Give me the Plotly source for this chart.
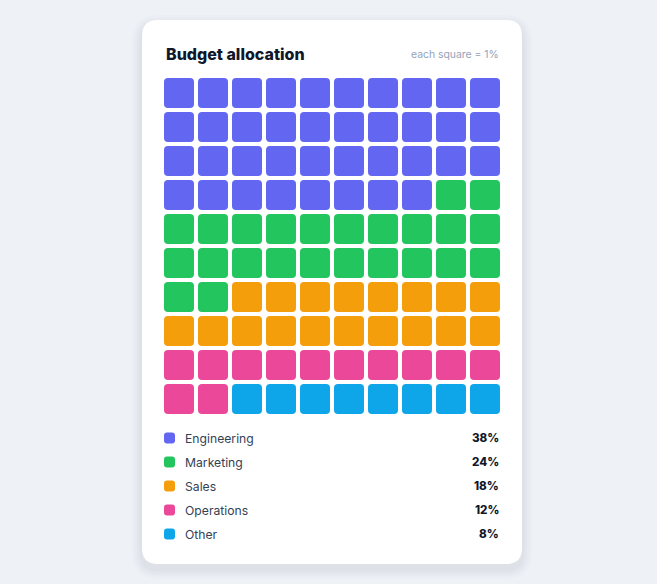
import plotly.graph_objects as go

# datos del waffle
categorias = ["Engineering", "Marketing", "Sales", "Operations", "Other"]
porcentajes = [38, 24, 18, 12, 8]
colores = ["#6366f1", "#22c55e", "#f59e0b", "#ec4899", "#0ea5e9"]

titulo = "Budget allocation"
subtitulo = "each square = 1%"

W, H = 657, 584
columnas = 10
paso = 34      # px entre cuadros
lado = 30      # px del cuadro
fondo = "#eef1f6"


def px(x):
    return x / W


def py(y):
    return 1 - y / H


def rect_redondo(x0, y0, x1, y1, rx, ry):
    # path de rectangulo con esquinas redondeadas (y puede ir invertida)
    sy = 1 if y1 > y0 else -1
    return (f"M {x0 + rx},{y0} L {x1 - rx},{y0} Q {x1},{y0} {x1},{y0 + sy * ry} "
            f"L {x1},{y1 - sy * ry} Q {x1},{y1} {x1 - rx},{y1} "
            f"L {x0 + rx},{y1} Q {x0},{y1} {x0},{y1 - sy * ry} "
            f"L {x0},{y0 + sy * ry} Q {x0},{y0} {x0 + rx},{y0} Z")


fig = go.Figure()
shapes = []

# sombra y tarjeta
for i, a in enumerate([0.012, 0.015, 0.018, 0.022]):
    g = 10 - i * 2.5
    shapes.append(dict(type="path", xref="paper", yref="paper", layer="below",
                       path=rect_redondo(px(142 - g), py(20 - g + 5), px(522 + g), py(564 + g + 5),
                                         (16 + g) / W, (16 + g) / H),
                       fillcolor=f"rgba(30,41,59,{a})", line=dict(width=0)))
shapes.append(dict(type="path", xref="paper", yref="paper", layer="below",
                   path=rect_redondo(px(142), py(20), px(522), py(564), 16 / W, 16 / H),
                   fillcolor="white", line=dict(width=0)))

# cuadros del waffle
celdas = []
for cat, n, col in zip(categorias, porcentajes, colores):
    celdas += [col] * n
u = lado / paso
r = 4 / paso
for k, col in enumerate(celdas):
    c, f = k % columnas, k // columnas
    shapes.append(dict(type="path", xref="x", yref="y",
                       path=rect_redondo(c, f, c + u, f + u, r, r),
                       fillcolor=col, line=dict(width=0)))

anotaciones = []
anotaciones.append(dict(text=titulo, x=px(164), y=py(54), xref="paper", yref="paper",
                        xanchor="left", yanchor="middle", showarrow=False,
                        font=dict(family="Inter", size=16, weight=800, color="#0f172a")))
anotaciones.append(dict(text=subtitulo, x=px(501), y=py(55), xref="paper", yref="paper",
                        xanchor="right", yanchor="middle", showarrow=False,
                        font=dict(family="Inter", size=10.4, color="#94a3b8")))

# leyenda
for i, (cat, n, col) in enumerate(zip(categorias, porcentajes, colores)):
    yc = 438 + i * 24
    shapes.append(dict(type="path", xref="paper", yref="paper",
                       path=rect_redondo(px(164), py(yc - 5.5), px(175), py(yc + 5.5), 3 / W, 3 / H),
                       fillcolor=col, line=dict(width=0)))
    anotaciones.append(dict(text=cat, x=px(183), y=py(yc), xref="paper", yref="paper",
                            xanchor="left", yanchor="middle", showarrow=False,
                            font=dict(family="Inter", size=12.2, color="#334155")))
    anotaciones.append(dict(text=str(n) + "%", x=px(501), y=py(yc), xref="paper", yref="paper",
                            xanchor="right", yanchor="middle", showarrow=False,
                            font=dict(family="Inter", size=11.6, weight=800, color="#0f172a")))

rango = (columnas * paso - (paso - lado)) / paso
eje = dict(showgrid=False, zeroline=False, showticklabels=False, ticks="", fixedrange=True)
fig.update_layout(
    width=W, height=H, margin=dict(l=0, r=0, t=0, b=0),
    paper_bgcolor=fondo, plot_bgcolor="rgba(0,0,0,0)",
    xaxis=dict(eje, domain=[px(164), px(500)], range=[0, rango]),
    yaxis=dict(eje, domain=[py(414), py(78)], range=[rango, 0]),
    shapes=shapes, annotations=anotaciones, showlegend=False,
)
# quitar el margen del body para que la figura quede en 0,0
fig.write_html("out.html", config={"displayModeBar": False},
               post_script="document.body.style.margin='0';document.body.style.background='" + fondo + "';")
